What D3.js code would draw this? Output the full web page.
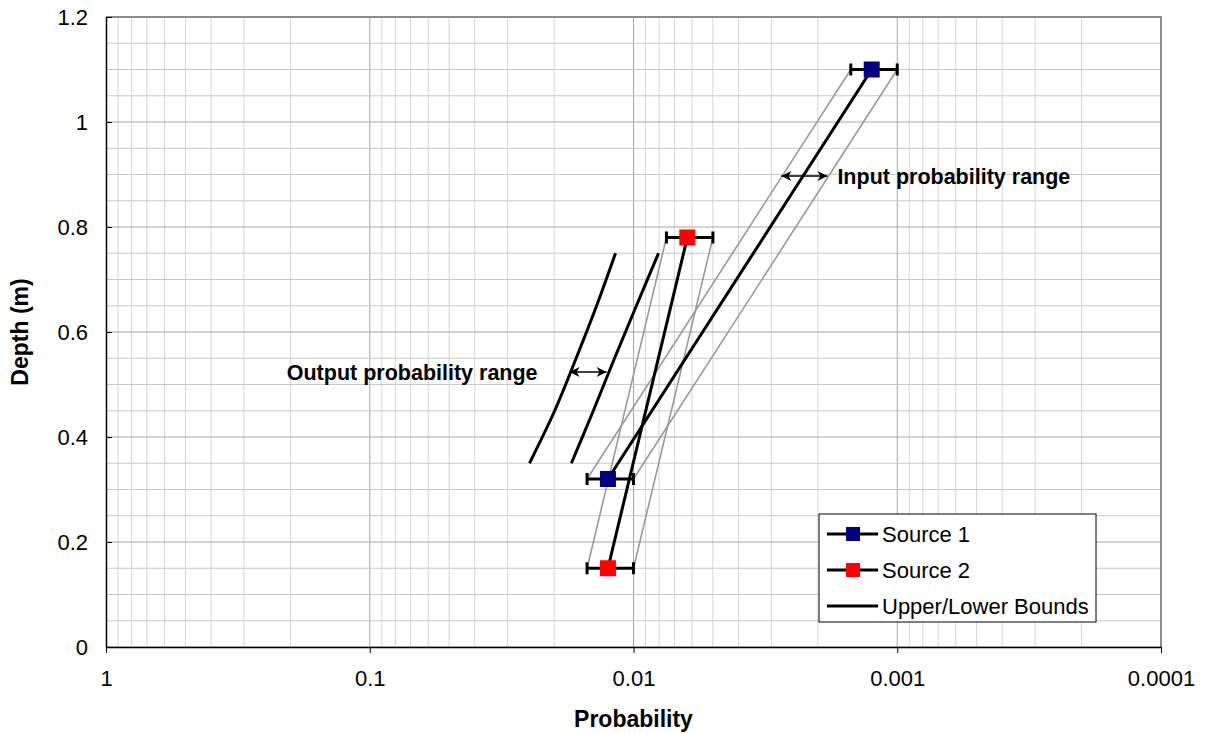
<!DOCTYPE html>
<html>
<head>
<meta charset="utf-8">
<script src="https://cdn.jsdelivr.net/npm/d3@7"></script>
<style>
  body { margin: 0; background: #fff; }
  text { font-family: "Liberation Sans", Arial, sans-serif; }
</style>
</head>
<body>
<svg id="chart"></svg>
<script>
// Data
const source1Depth = [0.32, 1.1];
const source1Prob = [0.0125, 0.00125];
const source1Lo = [0.015, 0.0015]; // higher probability end (left)
const source1Hi = [0.01, 0.001];

const source2Depth = [0.15, 0.78];
const source2Prob = [0.0125, 0.00625];
const source2Lo = [0.015, 0.0075];
const source2Hi = [0.01, 0.005];

const boundDepth = [0.35, 0.45, 0.55, 0.65, 0.75];
const lowerBound = [0.0248, 0.0199, 0.0165, 0.0138, 0.0117];
const upperBound = [0.0172, 0.0142, 0.0118, 0.00975, 0.00804];

const xTicks = [1, 0.1, 0.01, 0.001, 0.0001];
const xTickLabels = ["1", "0.1", "0.01", "0.001", "0.0001"];
const yTicks = [0, 0.2, 0.4, 0.6, 0.8, 1, 1.2];

const legendItems = ["Source 1", "Source 2", "Upper/Lower Bounds"];
const legendColors = ["#000080", "#ff0000", null];

// Dimensions
const width = 1207;
const height = 733;
const margin = { top: 17, right: 46, bottom: 86, left: 106 };

const svg = d3.select("#chart").attr("width", width).attr("height", height);

const x = d3.scaleLog().domain([1, 0.0001]).range([margin.left, width - margin.right]);
const y = d3.scaleLinear().domain([0, 1.2]).range([height - margin.bottom, margin.top]);

const x0 = x.range()[0], x1 = x.range()[1];
const y0 = y.range()[0], y1 = y.range()[1];

// Grid
const grid = svg.append("g");
const vLines = [];
for (let d = 1; d <= 4; d++) {
  for (let m = 1; m <= 9; m++) {
    const v = m * Math.pow(10, -d);
    vLines.push({ v: v, major: m === 1 });
  }
}
grid.selectAll(".vg")
  .data(vLines)
  .enter()
  .append("line")
  .attr("x1", (d) => x(d.v))
  .attr("x2", (d) => x(d.v))
  .attr("y1", y1)
  .attr("y2", y0)
  .attr("stroke", (d) => (d.major ? "#a8a8a8" : "#d6d6d6"))
  .attr("stroke-width", 1);

const hLines = d3.range(0, 25).map((i) => ({ v: i * 0.05, major: i % 4 === 0 }));
grid.selectAll(".hg")
  .data(hLines)
  .enter()
  .append("line")
  .attr("x1", x0)
  .attr("x2", x1)
  .attr("y1", (d) => y(d.v))
  .attr("y2", (d) => y(d.v))
  .attr("stroke", (d) => (d.major ? "#a8a8a8" : "#c8c8c8"))
  .attr("stroke-width", 1);

// Plot border (top/right)
svg.append("path")
  .attr("d", `M${x0},${y1}H${x1}V${y0}`)
  .attr("fill", "none")
  .attr("stroke", "#8c8c8c")
  .attr("stroke-width", 2);

// Axes
const xAxis = d3.axisBottom(x)
  .tickValues(xTicks)
  .tickFormat((d, i) => xTickLabels[i])
  .tickSizeInner(6)
  .tickSizeOuter(0)
  .tickPadding(17);
const gx = svg.append("g").attr("transform", `translate(0,${y0})`).call(xAxis);
gx.select(".domain").attr("stroke", "#000").attr("stroke-width", 1.5);
gx.selectAll("text").attr("font-size", 22).attr("fill", "#000")
  .attr("font-family", "Liberation Sans, Arial, sans-serif");

const yAxis = d3.axisLeft(y)
  .tickValues(yTicks)
  .tickFormat(d3.format("~g"))
  .tickSizeInner(-6)
  .tickSizeOuter(0)
  .tickPadding(18);
const gy = svg.append("g").attr("transform", `translate(${x0},0)`).call(yAxis);
gy.select(".domain").attr("stroke", "#000").attr("stroke-width", 1.5);
gy.selectAll("text").attr("font-size", 22).attr("fill", "#000")
  .attr("font-family", "Liberation Sans, Arial, sans-serif");

// Axis titles
svg.append("text")
  .attr("x", (x0 + x1) / 2)
  .attr("y", 727)
  .attr("text-anchor", "middle")
  .attr("font-size", 23)
  .attr("font-weight", "bold")
  .text("Probability");

svg.append("text")
  .attr("transform", `translate(28,${(y0 + y1) / 2}) rotate(-90)`)
  .attr("text-anchor", "middle")
  .attr("font-size", 23)
  .attr("font-weight", "bold")
  .text("Depth (m)");

const line = d3.line().x((d) => x(d[0])).y((d) => y(d[1]));
const smooth = d3.line().curve(d3.curveCatmullRom).x((d) => x(d[0])).y((d) => y(d[1]));

// Input range (thin gray lines between error bar ends)
function rangeLines(lo, hi, depth) {
  [lo, hi].forEach((arr) => {
    svg.append("path")
      .datum(arr.map((p, i) => [p, depth[i]]))
      .attr("d", line)
      .attr("fill", "none")
      .attr("stroke", "#9a9a9a")
      .attr("stroke-width", 1.6);
  });
}
rangeLines(source1Lo, source1Hi, source1Depth);
rangeLines(source2Lo, source2Hi, source2Depth);

// Output bounds
[lowerBound, upperBound].forEach((arr) => {
  svg.append("path")
    .datum(arr.map((p, i) => [p, boundDepth[i]]))
    .attr("d", smooth)
    .attr("fill", "none")
    .attr("stroke", "#000")
    .attr("stroke-width", 3);
});

// Source series
function series(prob, depth, lo, hi, color) {
  const g = svg.append("g");
  g.append("path")
    .datum(prob.map((p, i) => [p, depth[i]]))
    .attr("d", line)
    .attr("fill", "none")
    .attr("stroke", "#000")
    .attr("stroke-width", 3);
  const pts = prob.map((p, i) => ({ p: p, d: depth[i], lo: lo[i], hi: hi[i] }));
  // error bars
  g.selectAll(".eb")
    .data(pts)
    .enter()
    .append("line")
    .attr("x1", (d) => x(d.lo))
    .attr("x2", (d) => x(d.hi))
    .attr("y1", (d) => y(d.d))
    .attr("y2", (d) => y(d.d))
    .attr("stroke", "#000")
    .attr("stroke-width", 3);
  ["lo", "hi"].forEach((k) => {
    g.selectAll(".cap" + k)
      .data(pts)
      .enter()
      .append("line")
      .attr("x1", (d) => x(d[k]))
      .attr("x2", (d) => x(d[k]))
      .attr("y1", (d) => y(d.d) - 6)
      .attr("y2", (d) => y(d.d) + 6)
      .attr("stroke", "#000")
      .attr("stroke-width", 3);
  });
  g.selectAll(".mk")
    .data(pts)
    .enter()
    .append("rect")
    .attr("x", (d) => x(d.p) - 8)
    .attr("y", (d) => y(d.d) - 8)
    .attr("width", 16)
    .attr("height", 16)
    .attr("fill", color);
}
series(source1Prob, source1Depth, source1Lo, source1Hi, "#000080");
series(source2Prob, source2Depth, source2Lo, source2Hi, "#ff0000");

// Arrow markers
const defs = svg.append("defs");
defs.append("marker")
  .attr("id", "ah")
  .attr("viewBox", "0 0 10 10")
  .attr("refX", 10)
  .attr("refY", 5)
  .attr("markerWidth", 13)
  .attr("markerHeight", 10)
  .attr("markerUnits", "userSpaceOnUse")
  .attr("orient", "auto-start-reverse")
  .append("path")
  .attr("d", "M0,0L10,5L0,10L3,5Z")
  .attr("fill", "#000");

function annotation(pFrom, pTo, depth, label, side) {
  svg.append("line")
    .attr("x1", x(pFrom))
    .attr("x2", x(pTo))
    .attr("y1", y(depth))
    .attr("y2", y(depth))
    .attr("stroke", "#000")
    .attr("stroke-width", 1.5)
    .attr("marker-start", "url(#ah)")
    .attr("marker-end", "url(#ah)");
  svg.append("text")
    .attr("x", side === "right" ? x(pTo) + 10 : x(pFrom) - 32)
    .attr("y", y(depth) + 8)
    .attr("text-anchor", side === "right" ? "start" : "end")
    .attr("font-size", 21.5)
    .attr("font-weight", "bold")
    .text(label);
}
annotation(0.00275, 0.00184, 0.897, "Input probability range", "right");
annotation(0.01747, 0.01265, 0.524, "Output probability range", "left");

// Legend
const legend = svg.append("g").attr("transform", "translate(819,514)");
legend.append("rect")
  .attr("width", 277)
  .attr("height", 108)
  .attr("fill", "#fff")
  .attr("stroke", "#000")
  .attr("stroke-width", 1);
const li = legend.selectAll(".li")
  .data(legendItems)
  .enter()
  .append("g")
  .attr("transform", (d, i) => `translate(0,${20 + i * 36})`);
li.append("line")
  .attr("x1", 8)
  .attr("x2", 59)
  .attr("stroke", "#000")
  .attr("stroke-width", 3);
li.filter((d, i) => legendColors[i])
  .append("rect")
  .attr("x", 27)
  .attr("y", -7)
  .attr("width", 14)
  .attr("height", 14)
  .attr("fill", (d) => legendColors[legendItems.indexOf(d)]);
li.append("text")
  .attr("x", 63)
  .attr("y", 8)
  .attr("font-size", 22)
  .text((d) => d);
</script>
</body>
</html>
